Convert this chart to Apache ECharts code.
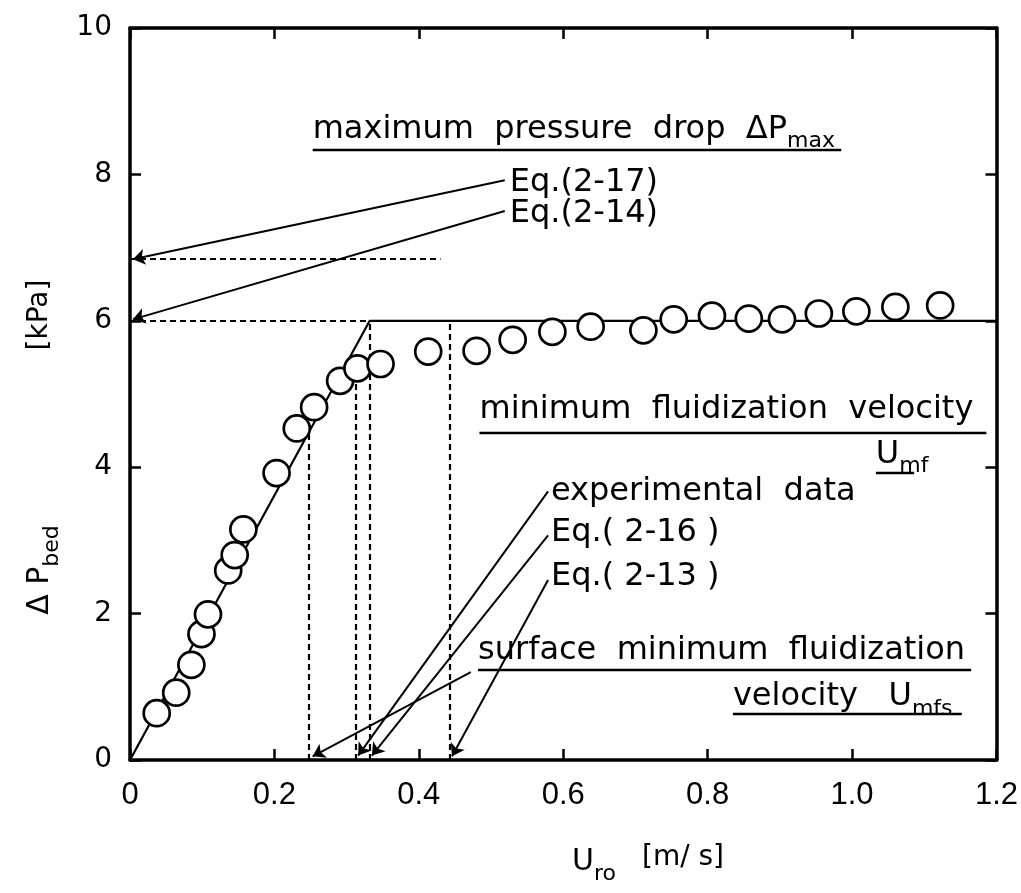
<!DOCTYPE html>
<html><head><meta charset="utf-8">
<script src="https://cdn.jsdelivr.net/npm/echarts@6/dist/echarts.min.js"></script>
<style>html,body{margin:0;padding:0;background:#fff}#c{width:1021px;height:893px}</style>
</head><body><div id="c"></div>
<script>
// experimental data: superficial velocity U_ro [m/s] vs bed pressure drop [kPa]
const velocity = [0.037,0.064,0.085,0.099,0.108,0.136,0.145,0.157,0.203,0.231,0.255,0.291,0.315,0.347,0.413,0.480,0.530,0.585,0.638,0.711,0.753,0.806,0.857,0.903,0.954,1.006,1.060,1.122];
const pressureDrop = [0.64,0.92,1.30,1.72,1.99,2.59,2.80,3.15,3.92,4.53,4.82,5.18,5.35,5.41,5.58,5.59,5.74,5.85,5.92,5.87,6.02,6.07,6.03,6.02,6.10,6.13,6.19,6.21];
// theoretical line
const theoryX = [0, 0.332, 1.2];
const theoryY = [0, 6.0, 6.0];
// dashed guide lines [x1,y1,x2,y2]
const guides = [[0,6.85,0.43,6.85],[0,6.0,0.332,6.0],[0.248,0,0.248,4.48],[0.313,0,0.313,5.3],[0.332,0,0.332,6.0],[0.443,0,0.443,6.0]];
// annotation arrows [x1,y1,x2,y2]
const arrows = [[0.519,7.92,0.004,6.84],[0.519,7.50,0.004,6.02],[0.579,3.67,0.316,0.06],[0.579,3.07,0.335,0.06],[0.579,2.46,0.446,0.05],[0.472,1.20,0.253,0.05]];
// underlines [x1,x2,y]
const underlines = [[0.253,0.985,8.33],[0.484,1.186,4.47],[1.033,1.086,3.93],[0.482,1.165,1.23],[0.835,1.152,0.63]];
// annotation texts [x,y,text]
const notes = [
  [0.253,8.61,'maximum  pressure  drop  ΔP{s|max}'],
  [0.526,7.88,'Eq.(2-17)'],
  [0.526,7.47,'Eq.(2-14)'],
  [0.484,4.78,'minimum  fluidization  velocity'],
  [1.033,4.17,'U{s|mf}'],
  [0.583,3.66,'experimental  data'],
  [0.583,3.10,'Eq.( 2-16 )'],
  [0.583,2.50,'Eq.( 2-13 )'],
  [0.482,1.50,'surface  minimum  fluidization'],
  [0.835,0.86,'velocity   U{s|mfs}']
];
const xTickLabels = ['0','0.2','0.4','0.6','0.8','1.0','1.2'];
const yTickLabels = ['0','2','4','6','8','10'];

const chart = echarts.init(document.getElementById('c'));
const seg = a => a.map(g => ({coords: [[g[0],g[1]],[g[2],g[3]]]}));
const ul = underlines.map(u => ({coords: [[u[0],u[2]],[u[1],u[2]]]}));
const frameAxis = {onZero:false, lineStyle:{color:'#000', width:3.5}};
const tick = {inside:true, length:11, lineStyle:{color:'#000', width:2.5}};
chart.setOption({
  animation:false,
  backgroundColor:'#fff',
  grid:{left:130, right:24, top:28, bottom:133},
  xAxis:[
    {type:'value', min:0, max:1.2, interval:0.2, axisLine:frameAxis, axisTick:tick, splitLine:{show:false},
     axisLabel:{margin:20, color:'#000', fontSize:31, fontFamily:'Liberation Sans',
       formatter:(v)=>xTickLabels[Math.round(v/0.2)]}},
    {type:'value', position:'top', min:0, max:1.2, interval:0.2, axisLine:frameAxis, axisTick:tick, axisLabel:{show:false}, splitLine:{show:false}}
  ],
  yAxis:[
    {type:'value', min:0, max:10, interval:2, axisLine:frameAxis, axisTick:tick, splitLine:{show:false},
     axisLabel:{margin:18, color:'#000', fontSize:28, fontFamily:'DejaVu Sans',
       formatter:(v)=>yTickLabels[Math.round(v/2)]}},
    {type:'value', position:'right', min:0, max:10, interval:2, axisLine:frameAxis, axisTick:tick, axisLabel:{show:false}, splitLine:{show:false}}
  ],
  series:[
    {type:'line', data:theoryX.map((x,i)=>[x,theoryY[i]]), symbol:'none', lineStyle:{color:'#000', width:2.2, opacity:1}, z:2},
    {type:'lines', coordinateSystem:'cartesian2d', data:seg(guides), lineStyle:{color:'#000', width:2.2, opacity:1, type:[6,4]}, symbol:['none','none'], z:2},
    {type:'lines', coordinateSystem:'cartesian2d', data:seg(arrows), lineStyle:{color:'#000', width:2, opacity:1}, symbol:['none','arrow'], symbolSize:12, z:2},
    {type:'lines', coordinateSystem:'cartesian2d', data:ul, lineStyle:{color:'#000', width:2.4, opacity:1}, symbol:['none','none'], z:2},
    {type:'scatter', data:velocity.map((x,i)=>[x,pressureDrop[i]]), symbol:'circle', symbolSize:26,
     itemStyle:{color:'#fff', borderColor:'#000', borderWidth:2.7, opacity:1}, z:5}
  ]
});
const rich = {s:{fontSize:22, fontFamily:'DejaVu Sans', verticalAlign:'bottom', lineHeight:46, fill:'#000'}};
const g = notes.map(n => {
  const p = chart.convertToPixel({gridIndex:0}, [n[0], n[1]]);
  return {type:'text', x:p[0], y:p[1], z:10, style:{text:n[2], fill:'#000', fontSize:32, fontFamily:'DejaVu Sans', lineHeight:46, align:'left', verticalAlign:'middle', rich:rich}};
});
g.push({type:'text', x:40, y:570, rotation:Math.PI/2, style:{text:'Δ P{s|bed}', fill:'#000', fontSize:30, fontFamily:'DejaVu Sans', lineHeight:46, align:'center', verticalAlign:'middle', rich:rich}});
g.push({type:'text', x:40, y:315, rotation:Math.PI/2, style:{text:'[kPa]', fill:'#000', fontSize:28, fontFamily:'DejaVu Sans', align:'center', verticalAlign:'middle'}});
g.push({type:'text', x:572, y:862, style:{text:'U{s|ro}', fill:'#000', fontSize:30, fontFamily:'DejaVu Sans', lineHeight:46, align:'left', verticalAlign:'middle', rich:rich}});
g.push({type:'text', x:642, y:858, style:{text:'[m/ s]', fill:'#000', fontSize:28, fontFamily:'DejaVu Sans', align:'left', verticalAlign:'middle'}});
chart.setOption({graphic:g});
</script></body></html>
